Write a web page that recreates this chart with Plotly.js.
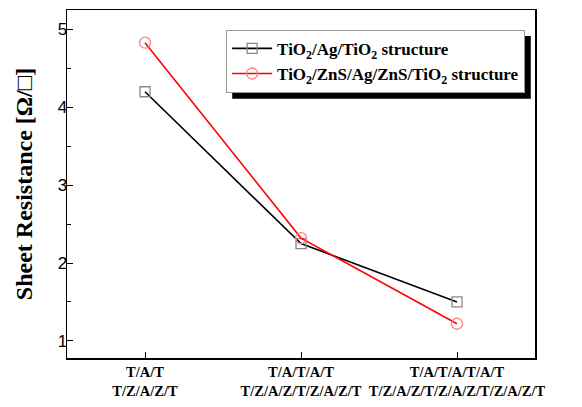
<!DOCTYPE html>
<html>
<head>
<meta charset="utf-8">
<script src="https://cdn.plot.ly/plotly-3.0.1.min.js"></script>
<style>html,body{margin:0;padding:0;background:#fff;}#chart{width:582px;height:407px;}</style>
</head>
<body>
<div id="chart"></div>
<script>
const categories = ["T/A/T<br>T/Z/A/Z/T", "T/A/T/A/T<br>T/Z/A/Z/T/Z/A/Z/T", "T/A/T/A/T/A/T<br>T/Z/A/Z/T/Z/A/Z/T/Z/A/Z/T"];
const seriesNames = ["TiO<sub>2</sub>/Ag/TiO<sub>2</sub> structure", "TiO<sub>2</sub>/ZnS/Ag/ZnS/TiO<sub>2</sub> structure"];
const tiAgTi = [4.2, 2.25, 1.5];
const tiZnsAg = [4.83, 2.32, 1.22];
const yTicks = [1, 2, 3, 4, 5];

const serif = "Liberation Serif, Times New Roman, serif";
const sans = "Liberation Sans, Arial, sans-serif";

const traces = [
  {x: categories, y: tiAgTi, name: seriesNames[0], type: "scatter", mode: "lines+markers",
   line: {color: "#000000", width: 1.6},
   marker: {symbol: "square-open", size: 10, color: "#888888", line: {width: 1.3, color: "#888888"}}},
  {x: categories, y: tiZnsAg, name: seriesNames[1], type: "scatter", mode: "lines+markers",
   line: {color: "#ff0000", width: 1.6},
   marker: {symbol: "circle-open", size: 11, color: "#ff8080", line: {width: 1.3, color: "#ff8080"}}}
];

const layout = {
  width: 582, height: 407,
  margin: {l: 67, r: 47, t: 10, b: 49},
  paper_bgcolor: "#ffffff", plot_bgcolor: "#ffffff",
  showlegend: true,
  legend: {x: 0.340, y: 0.943, xanchor: "left", yanchor: "top",
    bgcolor: "#ffffff", bordercolor: "#999999", borderwidth: 1,
    font: {family: serif, size: 17, color: "#000000", weight: "bold"}, tracegroupgap: 0, itemwidth: 40},
  xaxis: {type: "category", range: [-0.5, 2.5], showline: true, linecolor: "#000", linewidth: 1.5, mirror: true,
    ticks: "inside", ticklen: 6, tickcolor: "#000", showgrid: false, zeroline: false,
    tickfont: {family: serif, size: 14.5, color: "#000", weight: "bold"}},
  yaxis: {range: [0.78, 5.25], tickvals: yTicks, showline: true, linecolor: "#000", linewidth: 1.5, mirror: true,
    ticks: "inside", ticklen: 6, tickcolor: "#000", showgrid: false, zeroline: false,
    ticklabelstandoff: -5,
    tickfont: {family: sans, size: 17, color: "#000"},
    minor: {dtick: 0.5, ticks: "inside", ticklen: 4, tickcolor: "#000", showgrid: false},
    title: {text: "Sheet Resistance [Ω/□]", font: {family: serif, size: 24, color: "#000", weight: "bold"}, standoff: 18}},
  shapes: [
    {type: "rect", xref: "paper", yref: "paper", x0: 0.353, x1: 0.991, y0: 0.745, y1: 0.925,
     fillcolor: "#000000", line: {width: 0}, layer: "above"}
  ]
};

Plotly.newPlot("chart", traces, layout, {displayModeBar: false, staticPlot: true});
</script>
</body>
</html>
